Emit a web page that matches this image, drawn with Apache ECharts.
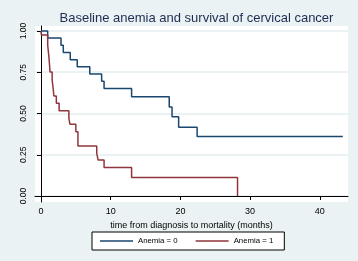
<!DOCTYPE html>
<html>
<head>
<meta charset="utf-8">
<script src="https://cdn.jsdelivr.net/npm/echarts@6/dist/echarts.min.js"></script>
<style>
  html, body { margin: 0; padding: 0; background: #eaf2f3; }
  #chart { width: 358px; height: 261px; }
</style>
</head>
<body>
<div id="chart"></div>
<script>
// Kaplan-Meier points: [time (months), survival after the drop]
const anemia0 = [
  [0, 1], [0.96, 0.957], [2.87, 0.913], [3.2, 0.87], [4.2, 0.826],
  [5.2, 0.783], [7.0, 0.739], [8.7, 0.696], [9.05, 0.652], [13.0, 0.602],
  [18.4, 0.54], [18.8, 0.48], [19.75, 0.416], [22.4, 0.36], [43.3, 0.36]
]
const anemia1 = [
  [0, 1], [0.05, 0.976], [0.96, 0.915], [1.15, 0.836], [1.3, 0.752],
  [1.6, 0.703], [1.75, 0.65], [1.85, 0.606], [2.2, 0.562], [2.6, 0.517],
  [4.0, 0.471], [4.15, 0.435], [5.0, 0.39], [5.3, 0.303], [8.0, 0.259],
  [8.2, 0.218], [9.05, 0.173], [13.0, 0.112], [28.2, 0]
]
const xTicks = [0, 10, 20, 30, 40]
const yTicks = [0, 0.25, 0.5, 0.75, 1]
const seriesNames = ['Anemia = 0', 'Anemia = 1']

const chart = echarts.init(document.getElementById('chart'))
const font = 'Liberation Sans, Arial, sans-serif'

chart.setOption({
  backgroundColor: '#eaf2f3',
  animation: false,
  color: ['#1a476f', '#90353b'],
  title: {
    text: 'Baseline anemia and survival of cervical cancer',
    left: 191.5,
    textAlign: 'center',
    top: 7,
    textStyle: { fontFamily: font, fontSize: 13, fontWeight: 'normal', color: '#1d2c52' }
  },
  legend: {
    data: seriesNames.map(n => ({ name: n, icon: 'rect' })),
    left: 92,
    top: 232,
    padding: [4, 11, 4, 8],
    itemGap: 18,
    itemWidth: 33,
    itemHeight: 1.5,
    backgroundColor: '#fff',
    borderColor: '#000',
    borderWidth: 1,
    borderRadius: 0,
    textStyle: { fontFamily: font, fontSize: 7.8, color: '#000', lineHeight: 10 }
  },
  grid: {
    left: 35, right: 10, top: 26, bottom: 59,
    show: true, backgroundColor: '#fff', borderWidth: 0
  },
  xAxis: {
    type: 'value',
    min: -0.86,
    max: 44.05,
    name: 'time from diagnosis to mortality (months)',
    nameLocation: 'middle',
    nameGap: 15,
    nameTextStyle: { fontFamily: font, fontSize: 9, color: '#000' },
    axisLine: { lineStyle: { color: '#000', width: 1 } },
    axisTick: { length: 4, customValues: xTicks, lineStyle: { color: '#000' } },
    axisLabel: { customValues: xTicks, margin: 5, fontFamily: font, fontSize: 9, color: '#000' },
    splitLine: { show: false }
  },
  yAxis: {
    type: 'value',
    min: -0.036,
    max: 1.03,
    axisLine: { show: true, lineStyle: { color: '#000', width: 1 } },
    axisTick: { show: true, length: 4, customValues: yTicks, lineStyle: { color: '#000' } },
    axisLabel: {
      customValues: yTicks,
      rotate: 90,
      margin: 7,
      fontFamily: font,
      fontSize: 8.5,
      color: '#000',
      formatter: v => v.toFixed(2)
    },
    splitLine: { show: true, lineStyle: { color: '#e4eef0', width: 1.5 } }
  },
  series: [
    {
      name: seriesNames[0],
      type: 'line',
      step: 'end',
      symbol: 'none',
      lineStyle: { width: 1.5 },
      data: anemia0
    },
    {
      name: seriesNames[1],
      type: 'line',
      step: 'end',
      symbol: 'none',
      lineStyle: { width: 1.5 },
      data: anemia1
    }
  ]
})
</script>
</body>
</html>
